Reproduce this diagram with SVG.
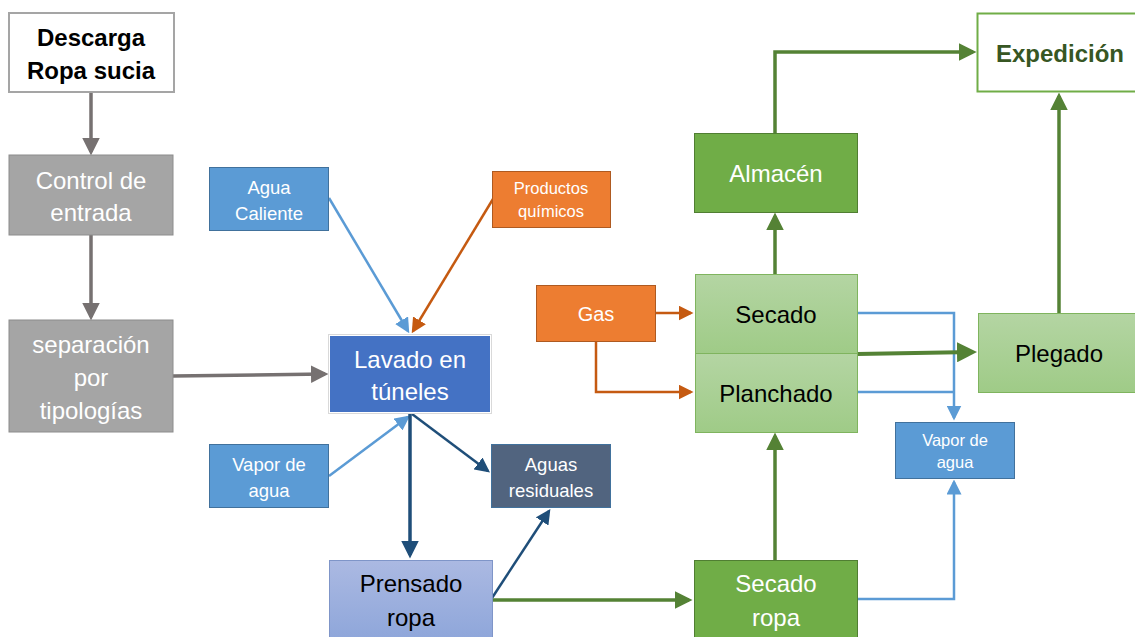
<svg xmlns="http://www.w3.org/2000/svg" width="1135" height="637" viewBox="0 0 1135 637">
<style>
text{font-family:"Liberation Sans",Arial,sans-serif;text-anchor:middle;dominant-baseline:central}
.big{font-size:24px}
.sm{font-size:18.5px}
.xs{font-size:16.5px}
.w{fill:#fff}
.k{fill:#000}
</style>
<defs>
<linearGradient id="gLight" x1="0" y1="0" x2="0" y2="1"><stop offset="0" stop-color="#b4d5a3"/><stop offset="1" stop-color="#9fcb87"/></linearGradient>
<linearGradient id="gBlue" x1="0" y1="0" x2="0" y2="1"><stop offset="0" stop-color="#abb9e2"/><stop offset="1" stop-color="#8ea6da"/></linearGradient>
<marker id="aGray" markerWidth="5" markerHeight="5" refX="4" refY="2.5" orient="auto" markerUnits="strokeWidth"><path d="M0,0L5,2.5L0,5z" fill="#767171"/></marker>
<marker id="aLB" markerWidth="6" markerHeight="6" refX="5" refY="3" orient="auto" markerUnits="strokeWidth"><path d="M0,0L6,3L0,6z" fill="#5b9bd5"/></marker>
<marker id="aOr" markerWidth="6" markerHeight="6" refX="5" refY="3" orient="auto" markerUnits="strokeWidth"><path d="M0,0L6,3L0,6z" fill="#c55a11"/></marker>
<marker id="aDB" markerWidth="5" markerHeight="5" refX="4" refY="2.5" orient="auto" markerUnits="strokeWidth"><path d="M0,0L5,2.5L0,5z" fill="#1f4e79"/></marker>
<marker id="aDB2" markerWidth="6" markerHeight="6" refX="5" refY="3" orient="auto" markerUnits="strokeWidth"><path d="M0,0L6,3L0,6z" fill="#1f4e79"/></marker>
<marker id="aGr" markerWidth="5" markerHeight="5" refX="4" refY="2.5" orient="auto" markerUnits="strokeWidth"><path d="M0,0L5,2.5L0,5z" fill="#548235"/></marker>
</defs>

<g id="connectors" fill="none">
<path d="M91,92V152" stroke="#767171" stroke-width="3.5" marker-end="url(#aGray)"/>
<path d="M91,235V317" stroke="#767171" stroke-width="3.5" marker-end="url(#aGray)"/>
<path d="M173,376L325,374" stroke="#767171" stroke-width="3.5" marker-end="url(#aGray)"/>
<path d="M329,198L408,331" stroke="#5b9bd5" stroke-width="2.5" marker-end="url(#aLB)"/>
<path d="M493,199L413,331" stroke="#c55a11" stroke-width="2.5" marker-end="url(#aOr)"/>
<path d="M329,476L408,417" stroke="#5b9bd5" stroke-width="2.5" marker-end="url(#aLB)"/>
<path d="M410,414V555" stroke="#1f4e79" stroke-width="3.5" marker-end="url(#aDB)"/>
<path d="M412,414L488,471" stroke="#1f4e79" stroke-width="2.5" marker-end="url(#aDB2)"/>
<path d="M492,598L549,511" stroke="#1f4e79" stroke-width="2.5" marker-end="url(#aDB2)"/>
<path d="M492,600H689" stroke="#548235" stroke-width="3.5" marker-end="url(#aGr)"/>
<path d="M775,560V436" stroke="#548235" stroke-width="3.5" marker-end="url(#aGr)"/>
<path d="M857,599H954V482" stroke="#5b9bd5" stroke-width="2.5" marker-end="url(#aLB)"/>
<path d="M857,313H954V418" stroke="#5b9bd5" stroke-width="2.5" marker-end="url(#aLB)"/>
<path d="M857,392H954" stroke="#5b9bd5" stroke-width="2.5"/>
<path d="M775,274V216" stroke="#548235" stroke-width="3.5" marker-end="url(#aGr)"/>
<path d="M775,133V52H973" stroke="#548235" stroke-width="3.5" marker-end="url(#aGr)"/>
<path d="M857,354L973,352" stroke="#548235" stroke-width="4" marker-end="url(#aGr)"/>
<path d="M1059,313V96" stroke="#548235" stroke-width="3.5" marker-end="url(#aGr)"/>
<path d="M655,313H691" stroke="#c55a11" stroke-width="2.5" marker-end="url(#aOr)"/>
<path d="M596,342V392H691" stroke="#c55a11" stroke-width="2.5" marker-end="url(#aOr)"/>
</g>

<g id="descarga">
<rect x="9" y="13" width="165" height="79" fill="#fff" stroke="#a5a5a5" stroke-width="2"/>
<text x="91" y="37" class="big k" font-weight="bold">Descarga</text>
<text x="91" y="70" class="big k" font-weight="bold">Ropa sucia</text>
</g>
<g id="control">
<rect x="9" y="155" width="164" height="80" fill="#a5a5a5" stroke="#8c8c8c" stroke-width="1"/>
<text x="91" y="180" class="big w">Control de</text>
<text x="91" y="212" class="big w">entrada</text>
</g>
<g id="separacion">
<rect x="9" y="320" width="164" height="112" fill="#a5a5a5" stroke="#8c8c8c" stroke-width="1"/>
<text x="91" y="344" class="big w">separación</text>
<text x="91" y="377" class="big w">por</text>
<text x="91" y="410" class="big w">tipologías</text>
</g>
<g id="lavado">
<rect x="328.5" y="334.5" width="163" height="79" fill="#fff" stroke="#d9d9d9" stroke-width="1"/>
<rect x="330" y="336" width="160" height="76" fill="#4472c4"/>
<text x="410" y="359" class="big w">Lavado en</text>
<text x="410" y="391" class="big w">túneles</text>
</g>
<g id="agua-caliente">
<rect x="209.5" y="167.5" width="119" height="63" fill="#5b9bd5" stroke="#41719c" stroke-width="1"/>
<text x="269" y="187" class="sm w">Agua</text>
<text x="269" y="213" class="sm w">Caliente</text>
</g>
<g id="productos">
<rect x="492.5" y="171.5" width="118" height="56" fill="#ed7d31" stroke="#ae5a21" stroke-width="1"/>
<text x="551" y="188" class="xs w">Productos</text>
<text x="551" y="211" class="xs w">químicos</text>
</g>
<g id="vapor-izq">
<rect x="209.5" y="444.5" width="119" height="63" fill="#5b9bd5" stroke="#41719c" stroke-width="1"/>
<text x="269" y="464" class="sm w">Vapor de</text>
<text x="269" y="490" class="sm w">agua</text>
</g>
<g id="aguas-residuales">
<rect x="491.5" y="444.5" width="119" height="63" fill="#51647f" stroke="#41719c" stroke-width="1"/>
<text x="551" y="464" class="sm w">Aguas</text>
<text x="551" y="490" class="sm w">residuales</text>
</g>
<g id="prensado">
<rect x="329.5" y="560.5" width="163" height="80" fill="url(#gBlue)" stroke="#7f95c8" stroke-width="1"/>
<text x="411" y="583" class="big k">Prensado</text>
<text x="411" y="617" class="big k">ropa</text>
</g>
<g id="secado-ropa">
<rect x="694.5" y="560.5" width="163" height="80" fill="#70ad47" stroke="#507e32" stroke-width="1"/>
<text x="776" y="583" class="big w">Secado</text>
<text x="776" y="617" class="big w">ropa</text>
</g>
<g id="secado">
<rect x="695.5" y="274.5" width="162" height="79" fill="url(#gLight)" stroke="#7fb45e" stroke-width="1"/>
<text x="776" y="314" class="big k">Secado</text>
</g>
<g id="planchado">
<rect x="695.5" y="353.5" width="162" height="79" fill="url(#gLight)" stroke="#7fb45e" stroke-width="1"/>
<text x="776" y="393" class="big k">Planchado</text>
</g>
<g id="almacen">
<rect x="694.5" y="133.5" width="163" height="79" fill="#70ad47" stroke="#507e32" stroke-width="1"/>
<text x="776" y="173" class="big w">Almacén</text>
</g>
<g id="expedicion">
<rect x="977.5" y="13.5" width="162" height="78" fill="#fff" stroke="#70ad47" stroke-width="2"/>
<text x="1060" y="53" class="big" fill="#375623" font-weight="bold">Expedición</text>
</g>
<g id="plegado">
<rect x="978.5" y="313.5" width="162" height="79" fill="url(#gLight)" stroke="#7fb45e" stroke-width="1"/>
<text x="1059" y="353" class="big k">Plegado</text>
</g>
<g id="vapor-der">
<rect x="895.5" y="422.5" width="119" height="56" fill="#5b9bd5" stroke="#41719c" stroke-width="1"/>
<text x="955" y="440" class="xs w">Vapor de</text>
<text x="955" y="462" class="xs w">agua</text>
</g>
<g id="gas">
<rect x="536.5" y="285.5" width="119" height="56" fill="#ed7d31" stroke="#ae5a21" stroke-width="1"/>
<text x="596" y="314" class="w" style="font-size:20px">Gas</text>
</g>
</svg>
